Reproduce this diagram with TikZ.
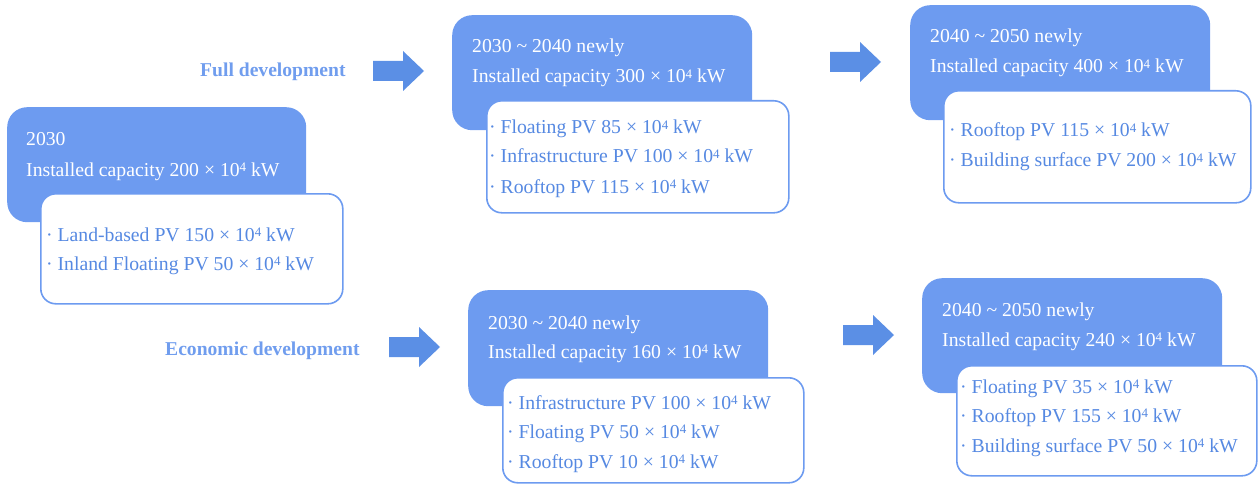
\documentclass[tikz,border=0pt]{standalone}
\usepackage{fontspec}
\setmainfont{Liberation Serif}
\definecolor{boxblue}{RGB}{109,155,240}
\definecolor{arrowblue}{RGB}{91,143,229}
\definecolor{txtblue}{RGB}{86,137,226}
\definecolor{lblblue}{RGB}{112,157,238}
\newcommand{\blockarrow}[2]{\fill[arrowblue] (#1,#2+10) -- ++(30,0) -- ++(0,10) -- ++(21,-20) -- ++(-21,-20) -- ++(0,10) -- ++(-30,0) -- cycle;}
\newcommand{\tk}{ × 10\smash{\raisebox{0.55ex}{\fontsize{13}{13}\selectfont 4}} kW}
\newcommand{\tld}{ \char"007E\ }
\begin{document}
\begin{tikzpicture}[x=1pt,y=-1pt,
  bluebox/.style={fill=boxblue, draw=none, rounded corners=20pt, anchor=north west, inner sep=0pt},
  whitebox/.style={fill=white, draw=boxblue, line width=1.6pt, rounded corners=15pt, anchor=north west, inner sep=0pt},
  wtext/.style={text=white, anchor=base west, inner sep=0pt, font=\fontsize{19.7}{22}\selectfont},
  btext/.style={text=txtblue, anchor=base west, inner sep=0pt, font=\fontsize{19.7}{22}\selectfont},
  label/.style={text=lblblue, anchor=base west, inner sep=0pt, font=\fontsize{19.6}{22}\selectfont\bfseries}]
\useasboundingbox (0,0) rectangle (1258,484);
% labels
\node[label] (full) at (200,77) {Full development};
\node[label] (econ) at (165,355) {Economic development};
% arrows
\blockarrow{373}{71}
\blockarrow{830}{62}
\blockarrow{389}{347}
\blockarrow{843}{335}
% box 1
\node[bluebox, minimum width=299pt, minimum height=115pt] (b1) at (7,107) {};
\node[whitebox, minimum width=302pt, minimum height=110pt] (w1) at (40,193) {};
\node[wtext] (b1a) at (26,146) {2030};
\node[wtext] (b1b) at (26,176) {Installed capacity 200\tk};
\node[btext] (w1a) at (46,241) {·\ Land-based PV 150\tk};
\node[btext] (w1b) at (46,270) {·\ Inland Floating PV 50\tk};
% box 2
\node[bluebox, minimum width=300pt, minimum height=115pt] (b2) at (452,15) {};
\node[whitebox, minimum width=302pt, minimum height=112pt] (w2) at (486,100) {};
\node[wtext] (b2a) at (472,53) {2030\tld2040 newly};
\node[wtext] (b2b) at (472,83) {Installed capacity 300\tk};
\node[btext] (w2a) at (489,134) {·\ Floating PV 85\tk};
\node[btext] (w2b) at (489,163) {·\ Infrastructure PV 100\tk};
\node[btext] (w2c) at (489,193) {·\ Rooftop PV 115\tk};
% box 3
\node[bluebox, minimum width=300pt, minimum height=115pt] (b3) at (910,5) {};
\node[whitebox, minimum width=307pt, minimum height=112pt] (w3) at (943,90) {};
\node[wtext] (b3a) at (930,43) {2040\tld2050 newly};
\node[wtext] (b3b) at (930,73) {Installed capacity 400\tk};
\node[btext] (w3a) at (949,137) {·\ Rooftop PV 115\tk};
\node[btext] (w3b) at (949,167) {·\ Building surface PV 200\tk};
% box 4
\node[bluebox, minimum width=300pt, minimum height=116pt] (b4) at (468,290) {};
\node[whitebox, minimum width=301pt, minimum height=105pt] (w4) at (502,377) {};
\node[wtext] (b4a) at (488,329) {2030\tld2040 newly};
\node[wtext] (b4b) at (488,358) {Installed capacity 160\tk};
\node[btext] (w4a) at (507,409) {·\ Infrastructure PV 100\tk};
\node[btext] (w4b) at (507,438) {·\ Floating PV 50\tk};
\node[btext] (w4c) at (507,468) {·\ Rooftop PV 10\tk};
% box 5
\node[bluebox, minimum width=300pt, minimum height=115pt] (b5) at (922,278) {};
\node[whitebox, minimum width=300pt, minimum height=110pt] (w5) at (956,365) {};
\node[wtext] (b5a) at (942,316) {2040\tld2050 newly};
\node[wtext] (b5b) at (942,346) {Installed capacity 240\tk};
\node[btext] (w5a) at (960,393) {·\ Floating PV 35\tk};
\node[btext] (w5b) at (960,422) {·\ Rooftop PV 155\tk};
\node[btext] (w5c) at (960,452) {·\ Building surface PV 50\tk};
\end{tikzpicture}
\end{document}
